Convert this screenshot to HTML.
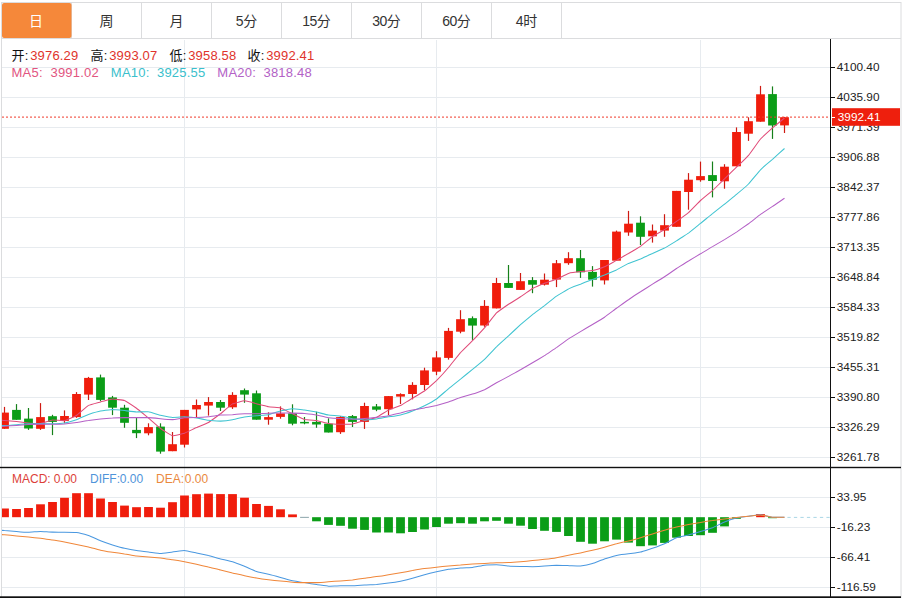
<!DOCTYPE html>
<html><head><meta charset="utf-8"><title>K-line</title><style>html,body{margin:0;padding:0;background:#fff;width:914px;height:598px;overflow:hidden;font-family:"Liberation Sans",sans-serif}</style></head><body><svg width="914" height="598" viewBox="0 0 914 598" style="display:block;position:absolute;left:0;top:0" font-family="Liberation Sans, Noto Sans CJK SC, sans-serif">
<rect width="914" height="598" fill="#fff"/>
<g stroke="#e7ebef" stroke-width="1" shape-rendering="crispEdges">
<line x1="2" y1="67.5" x2="830" y2="67.5"/>
<line x1="2" y1="97.5" x2="830" y2="97.5"/>
<line x1="2" y1="127.5" x2="830" y2="127.5"/>
<line x1="2" y1="157.5" x2="830" y2="157.5"/>
<line x1="2" y1="187.5" x2="830" y2="187.5"/>
<line x1="2" y1="217.5" x2="830" y2="217.5"/>
<line x1="2" y1="247.5" x2="830" y2="247.5"/>
<line x1="2" y1="277.5" x2="830" y2="277.5"/>
<line x1="2" y1="307.5" x2="830" y2="307.5"/>
<line x1="2" y1="337.5" x2="830" y2="337.5"/>
<line x1="2" y1="367.5" x2="830" y2="367.5"/>
<line x1="2" y1="397.5" x2="830" y2="397.5"/>
<line x1="2" y1="427.5" x2="830" y2="427.5"/>
<line x1="2" y1="457.5" x2="830" y2="457.5"/>
<line x1="2" y1="497.5" x2="830" y2="497.5"/>
<line x1="2" y1="527.5" x2="830" y2="527.5"/>
<line x1="2" y1="557.5" x2="830" y2="557.5"/>
<line x1="2" y1="587.5" x2="830" y2="587.5"/>
<line x1="184.5" y1="40" x2="184.5" y2="597"/>
<line x1="436.5" y1="40" x2="436.5" y2="597"/>
<line x1="700.5" y1="40" x2="700.5" y2="597"/>
</g>
<g stroke="#dbdcde" stroke-width="1" shape-rendering="crispEdges">
<line x1="1.5" y1="2" x2="1.5" y2="598"/>
<line x1="901" y1="2" x2="901" y2="598" shape-rendering="auto"/>
<line x1="1" y1="2.5" x2="901" y2="2.5"/>
<line x1="1" y1="38.5" x2="901" y2="38.5"/>
<line x1="71.5" y1="2" x2="71.5" y2="39"/>
<line x1="141.5" y1="2" x2="141.5" y2="39"/>
<line x1="211.5" y1="2" x2="211.5" y2="39"/>
<line x1="281.5" y1="2" x2="281.5" y2="39"/>
<line x1="351.5" y1="2" x2="351.5" y2="39"/>
<line x1="421.5" y1="2" x2="421.5" y2="39"/>
<line x1="491.5" y1="2" x2="491.5" y2="39"/>
<line x1="561.5" y1="2" x2="561.5" y2="39"/>
</g>
<rect x="2" y="3" width="69.5" height="35" rx="2" fill="#f5883a"/>
<text x="29.00" y="26.30" font-size="14" fill="#fff">日</text>
<text x="99.50" y="26.30" font-size="14" fill="#333">周</text>
<text x="169.50" y="26.30" font-size="14" fill="#333">月</text>
<text x="235.82" y="26.30" font-size="14" fill="#333">5</text><text x="243.17" y="26.30" font-size="14" fill="#333">分</text>
<text x="302.15" y="26.30" font-size="14" fill="#333">1</text><text x="309.50" y="26.30" font-size="14" fill="#333">5</text><text x="316.85" y="26.30" font-size="14" fill="#333">分</text>
<text x="372.15" y="26.30" font-size="14" fill="#333">3</text><text x="379.50" y="26.30" font-size="14" fill="#333">0</text><text x="386.85" y="26.30" font-size="14" fill="#333">分</text>
<text x="442.15" y="26.30" font-size="14" fill="#333">6</text><text x="449.50" y="26.30" font-size="14" fill="#333">0</text><text x="456.85" y="26.30" font-size="14" fill="#333">分</text>
<text x="515.83" y="26.30" font-size="14" fill="#333">4</text><text x="523.18" y="26.30" font-size="14" fill="#333">时</text>
<text x="11.40" y="59.60" font-size="13" fill="#111">开</text>
<text x="24.8" y="59.6" font-size="13" fill="#111">:</text>
<text x="30.2" y="59.6" font-size="13" letter-spacing="0.18" fill="#e0332b">3976.29</text>
<text x="90.40" y="59.60" font-size="13" fill="#111">高</text>
<text x="103.8" y="59.6" font-size="13" fill="#111">:</text>
<text x="109.2" y="59.6" font-size="13" letter-spacing="0.18" fill="#e0332b">3993.07</text>
<text x="169.40" y="59.60" font-size="13" fill="#111">低</text>
<text x="182.8" y="59.6" font-size="13" fill="#111">:</text>
<text x="188.2" y="59.6" font-size="13" letter-spacing="0.18" fill="#e0332b">3958.58</text>
<text x="247.40" y="59.60" font-size="13" fill="#111">收</text>
<text x="260.8" y="59.6" font-size="13" fill="#111">:</text>
<text x="266.2" y="59.6" font-size="13" letter-spacing="0.18" fill="#e0332b">3992.41</text>
<text x="11.5" y="77.3" font-size="13" letter-spacing="0.25" fill="#e2557f">MA5:</text>
<text x="50.5" y="77.3" font-size="13" letter-spacing="0.2" fill="#e2557f">3991.02</text>
<text x="110.8" y="77.3" font-size="13" letter-spacing="0.25" fill="#3bbfcc">MA10:</text>
<text x="157.0" y="77.3" font-size="13" letter-spacing="0.2" fill="#3bbfcc">3925.55</text>
<text x="217.3" y="77.3" font-size="13" letter-spacing="0.25" fill="#b362c6">MA20:</text>
<text x="263.5" y="77.3" font-size="13" letter-spacing="0.2" fill="#b362c6">3818.48</text>
<text x="12.0" y="482.7" font-size="12" fill="#dc3f39">MACD:</text>
<text x="53.7" y="482.7" font-size="12" fill="#dc3f39">0.00</text>
<text x="90.0" y="482.7" font-size="12" fill="#4f94da">DIFF:</text>
<text x="119.8" y="482.7" font-size="12" fill="#4f94da">0.00</text>
<text x="156.0" y="482.7" font-size="12" fill="#ea893e">DEA:</text>
<text x="184.8" y="482.7" font-size="12" fill="#ea893e">0.00</text>
<clipPath id="cp"><rect x="2" y="40" width="828" height="558"/></clipPath>
<g clip-path="url(#cp)">
<rect x="0.1" y="508.5" width="8.8" height="8.7" fill="#f01d0c"/>
<rect x="12.1" y="509.0" width="8.8" height="8.2" fill="#f01d0c"/>
<rect x="24.1" y="508.0" width="8.8" height="9.2" fill="#f01d0c"/>
<rect x="36.1" y="504.3" width="8.8" height="12.9" fill="#f01d0c"/>
<rect x="48.1" y="502.0" width="8.8" height="15.2" fill="#f01d0c"/>
<rect x="60.1" y="497.8" width="8.8" height="19.4" fill="#f01d0c"/>
<rect x="72.1" y="493.2" width="8.8" height="24.0" fill="#f01d0c"/>
<rect x="84.1" y="493.2" width="8.8" height="24.0" fill="#f01d0c"/>
<rect x="96.1" y="498.5" width="8.8" height="18.7" fill="#f01d0c"/>
<rect x="108.1" y="502.0" width="8.8" height="15.2" fill="#f01d0c"/>
<rect x="120.1" y="505.6" width="8.8" height="11.6" fill="#f01d0c"/>
<rect x="132.1" y="507.2" width="8.8" height="10.0" fill="#f01d0c"/>
<rect x="144.1" y="507.0" width="8.8" height="10.2" fill="#f01d0c"/>
<rect x="156.1" y="507.7" width="8.8" height="9.5" fill="#f01d0c"/>
<rect x="168.1" y="502.2" width="8.8" height="15.0" fill="#f01d0c"/>
<rect x="180.1" y="495.5" width="8.8" height="21.7" fill="#f01d0c"/>
<rect x="192.1" y="494.2" width="8.8" height="23.0" fill="#f01d0c"/>
<rect x="204.1" y="493.6" width="8.8" height="23.6" fill="#f01d0c"/>
<rect x="216.1" y="494.1" width="8.8" height="23.1" fill="#f01d0c"/>
<rect x="228.1" y="494.1" width="8.8" height="23.1" fill="#f01d0c"/>
<rect x="240.1" y="497.7" width="8.8" height="19.5" fill="#f01d0c"/>
<rect x="252.1" y="504.0" width="8.8" height="13.2" fill="#f01d0c"/>
<rect x="264.1" y="505.9" width="8.8" height="11.3" fill="#f01d0c"/>
<rect x="276.1" y="509.3" width="8.8" height="7.9" fill="#f01d0c"/>
<rect x="288.1" y="514.4" width="8.8" height="2.8" fill="#f01d0c"/>
<rect x="300.1" y="516.9" width="8.8" height="0.7" fill="#5a7f86"/>
<rect x="312.1" y="517.2" width="8.8" height="4.1" fill="#0b9d17"/>
<rect x="324.1" y="517.2" width="8.8" height="7.7" fill="#0b9d17"/>
<rect x="336.1" y="517.2" width="8.8" height="8.6" fill="#0b9d17"/>
<rect x="348.1" y="517.2" width="8.8" height="11.5" fill="#0b9d17"/>
<rect x="360.1" y="517.2" width="8.8" height="12.7" fill="#0b9d17"/>
<rect x="372.1" y="517.2" width="8.8" height="15.3" fill="#0b9d17"/>
<rect x="384.1" y="517.2" width="8.8" height="15.3" fill="#0b9d17"/>
<rect x="396.1" y="517.2" width="8.8" height="16.1" fill="#0b9d17"/>
<rect x="408.1" y="517.2" width="8.8" height="14.8" fill="#0b9d17"/>
<rect x="420.1" y="517.2" width="8.8" height="12.3" fill="#0b9d17"/>
<rect x="432.1" y="517.2" width="8.8" height="9.8" fill="#0b9d17"/>
<rect x="444.1" y="517.2" width="8.8" height="6.5" fill="#0b9d17"/>
<rect x="456.1" y="517.2" width="8.8" height="6.0" fill="#0b9d17"/>
<rect x="468.1" y="517.2" width="8.8" height="6.5" fill="#0b9d17"/>
<rect x="480.1" y="517.2" width="8.8" height="4.1" fill="#0b9d17"/>
<rect x="492.1" y="517.2" width="8.8" height="3.6" fill="#0b9d17"/>
<rect x="504.1" y="517.2" width="8.8" height="6.5" fill="#0b9d17"/>
<rect x="516.1" y="517.2" width="8.8" height="8.5" fill="#0b9d17"/>
<rect x="528.1" y="517.2" width="8.8" height="11.8" fill="#0b9d17"/>
<rect x="540.1" y="517.2" width="8.8" height="13.6" fill="#0b9d17"/>
<rect x="552.1" y="517.2" width="8.8" height="14.7" fill="#0b9d17"/>
<rect x="564.1" y="517.2" width="8.8" height="18.8" fill="#0b9d17"/>
<rect x="576.1" y="517.2" width="8.8" height="24.6" fill="#0b9d17"/>
<rect x="588.1" y="517.2" width="8.8" height="26.5" fill="#0b9d17"/>
<rect x="600.1" y="517.2" width="8.8" height="24.1" fill="#0b9d17"/>
<rect x="612.1" y="517.2" width="8.8" height="22.4" fill="#0b9d17"/>
<rect x="624.1" y="517.2" width="8.8" height="25.4" fill="#0b9d17"/>
<rect x="636.1" y="517.2" width="8.8" height="29.0" fill="#0b9d17"/>
<rect x="648.1" y="517.2" width="8.8" height="28.2" fill="#0b9d17"/>
<rect x="660.1" y="517.2" width="8.8" height="25.7" fill="#0b9d17"/>
<rect x="672.1" y="517.2" width="8.8" height="20.5" fill="#0b9d17"/>
<rect x="684.1" y="517.2" width="8.8" height="18.8" fill="#0b9d17"/>
<rect x="696.1" y="517.2" width="8.8" height="18.0" fill="#0b9d17"/>
<rect x="708.1" y="517.2" width="8.8" height="15.6" fill="#0b9d17"/>
<rect x="720.1" y="517.2" width="8.8" height="9.2" fill="#0b9d17"/>
<rect x="732.1" y="517.2" width="8.8" height="1.6" fill="#0b9d17"/>
<rect x="756.1" y="514.1" width="8.8" height="3.1" fill="#f01d0c"/>
<rect x="768.1" y="517.2" width="8.8" height="1.0" fill="#0b9d17"/>
<line x1="4.5" y1="406.9" x2="4.5" y2="428.8" stroke="#cf1a12" stroke-width="1.2"/>
<rect x="0.1" y="412.6" width="8.8" height="16.2" fill="#f01d0c"/>
<line x1="16.5" y1="404.1" x2="16.5" y2="419.8" stroke="#16801a" stroke-width="1.2"/>
<rect x="12.1" y="409.9" width="8.8" height="9.9" fill="#0b9d17"/>
<line x1="28.5" y1="408.0" x2="28.5" y2="429.9" stroke="#16801a" stroke-width="1.2"/>
<rect x="24.1" y="418.6" width="8.8" height="9.9" fill="#0b9d17"/>
<line x1="40.5" y1="403.1" x2="40.5" y2="429.9" stroke="#cf1a12" stroke-width="1.2"/>
<rect x="36.1" y="417.1" width="8.8" height="11.7" fill="#f01d0c"/>
<line x1="52.5" y1="414.8" x2="52.5" y2="435.1" stroke="#16801a" stroke-width="1.2"/>
<rect x="48.1" y="416.2" width="8.8" height="5.7" fill="#0b9d17"/>
<line x1="64.5" y1="410.4" x2="64.5" y2="423.3" stroke="#cf1a12" stroke-width="1.2"/>
<rect x="60.1" y="416.0" width="8.8" height="4.9" fill="#f01d0c"/>
<line x1="76.5" y1="392.1" x2="76.5" y2="417.8" stroke="#cf1a12" stroke-width="1.2"/>
<rect x="72.1" y="394.0" width="8.8" height="23.1" fill="#f01d0c"/>
<line x1="88.5" y1="376.9" x2="88.5" y2="400.0" stroke="#cf1a12" stroke-width="1.2"/>
<rect x="84.1" y="377.9" width="8.8" height="16.7" fill="#f01d0c"/>
<line x1="100.5" y1="374.6" x2="100.5" y2="401.2" stroke="#16801a" stroke-width="1.2"/>
<rect x="96.1" y="377.4" width="8.8" height="22.5" fill="#0b9d17"/>
<line x1="112.5" y1="395.9" x2="112.5" y2="415.1" stroke="#16801a" stroke-width="1.2"/>
<rect x="108.1" y="397.4" width="8.8" height="10.3" fill="#0b9d17"/>
<line x1="124.5" y1="404.8" x2="124.5" y2="427.8" stroke="#16801a" stroke-width="1.2"/>
<rect x="120.1" y="407.7" width="8.8" height="15.1" fill="#0b9d17"/>
<line x1="136.5" y1="417.6" x2="136.5" y2="438.1" stroke="#16801a" stroke-width="1.2"/>
<rect x="132.1" y="429.9" width="8.8" height="3.3" fill="#0b9d17"/>
<line x1="148.5" y1="423.3" x2="148.5" y2="435.3" stroke="#cf1a12" stroke-width="1.2"/>
<rect x="144.1" y="427.1" width="8.8" height="6.2" fill="#f01d0c"/>
<line x1="160.5" y1="423.3" x2="160.5" y2="453.7" stroke="#16801a" stroke-width="1.2"/>
<rect x="156.1" y="426.6" width="8.8" height="25.0" fill="#0b9d17"/>
<line x1="172.5" y1="432.0" x2="172.5" y2="451.2" stroke="#cf1a12" stroke-width="1.2"/>
<rect x="168.1" y="444.2" width="8.8" height="7.0" fill="#f01d0c"/>
<line x1="184.5" y1="409.9" x2="184.5" y2="447.5" stroke="#cf1a12" stroke-width="1.2"/>
<rect x="180.1" y="409.9" width="8.8" height="34.8" fill="#f01d0c"/>
<line x1="196.5" y1="399.5" x2="196.5" y2="417.6" stroke="#cf1a12" stroke-width="1.2"/>
<rect x="192.1" y="405.0" width="8.8" height="4.4" fill="#f01d0c"/>
<line x1="208.5" y1="397.1" x2="208.5" y2="415.6" stroke="#cf1a12" stroke-width="1.2"/>
<rect x="204.1" y="402.0" width="8.8" height="3.6" fill="#f01d0c"/>
<line x1="220.5" y1="400.0" x2="220.5" y2="411.0" stroke="#16801a" stroke-width="1.2"/>
<rect x="216.1" y="402.0" width="8.8" height="5.7" fill="#0b9d17"/>
<line x1="232.5" y1="392.2" x2="232.5" y2="408.9" stroke="#cf1a12" stroke-width="1.2"/>
<rect x="228.1" y="394.9" width="8.8" height="12.4" fill="#f01d0c"/>
<line x1="244.5" y1="388.5" x2="244.5" y2="402.8" stroke="#16801a" stroke-width="1.2"/>
<rect x="240.1" y="390.2" width="8.8" height="4.4" fill="#0b9d17"/>
<line x1="256.5" y1="390.5" x2="256.5" y2="419.7" stroke="#16801a" stroke-width="1.2"/>
<rect x="252.1" y="393.3" width="8.8" height="26.4" fill="#0b9d17"/>
<line x1="268.5" y1="412.3" x2="268.5" y2="424.7" stroke="#cf1a12" stroke-width="1.2"/>
<rect x="264.1" y="417.1" width="8.8" height="2.6" fill="#f01d0c"/>
<line x1="280.5" y1="406.4" x2="280.5" y2="418.7" stroke="#cf1a12" stroke-width="1.2"/>
<rect x="276.1" y="413.4" width="8.8" height="3.5" fill="#f01d0c"/>
<line x1="292.5" y1="404.3" x2="292.5" y2="425.3" stroke="#16801a" stroke-width="1.2"/>
<rect x="288.1" y="413.3" width="8.8" height="10.4" fill="#0b9d17"/>
<line x1="304.5" y1="417.0" x2="304.5" y2="424.3" stroke="#16801a" stroke-width="1.2"/>
<rect x="300.1" y="421.9" width="8.8" height="1.5" fill="#0b9d17"/>
<line x1="316.5" y1="411.7" x2="316.5" y2="427.8" stroke="#16801a" stroke-width="1.2"/>
<rect x="312.1" y="421.9" width="8.8" height="2.6" fill="#0b9d17"/>
<line x1="328.5" y1="418.3" x2="328.5" y2="432.5" stroke="#16801a" stroke-width="1.2"/>
<rect x="324.1" y="423.7" width="8.8" height="8.8" fill="#0b9d17"/>
<line x1="340.5" y1="416.1" x2="340.5" y2="433.9" stroke="#cf1a12" stroke-width="1.2"/>
<rect x="336.1" y="417.0" width="8.8" height="15.2" fill="#f01d0c"/>
<line x1="352.5" y1="415.0" x2="352.5" y2="427.0" stroke="#16801a" stroke-width="1.2"/>
<rect x="348.1" y="416.1" width="8.8" height="5.8" fill="#0b9d17"/>
<line x1="364.5" y1="402.7" x2="364.5" y2="428.9" stroke="#cf1a12" stroke-width="1.2"/>
<rect x="360.1" y="406.0" width="8.8" height="15.9" fill="#f01d0c"/>
<line x1="376.5" y1="404.0" x2="376.5" y2="411.2" stroke="#16801a" stroke-width="1.2"/>
<rect x="372.1" y="406.4" width="8.8" height="3.3" fill="#0b9d17"/>
<line x1="388.5" y1="396.1" x2="388.5" y2="415.0" stroke="#cf1a12" stroke-width="1.2"/>
<rect x="384.1" y="396.1" width="8.8" height="13.1" fill="#f01d0c"/>
<line x1="400.5" y1="393.3" x2="400.5" y2="404.0" stroke="#cf1a12" stroke-width="1.2"/>
<rect x="396.1" y="394.1" width="8.8" height="2.5" fill="#f01d0c"/>
<line x1="412.5" y1="382.2" x2="412.5" y2="399.4" stroke="#cf1a12" stroke-width="1.2"/>
<rect x="408.1" y="384.9" width="8.8" height="9.1" fill="#f01d0c"/>
<line x1="424.5" y1="367.7" x2="424.5" y2="390.2" stroke="#cf1a12" stroke-width="1.2"/>
<rect x="420.1" y="370.4" width="8.8" height="14.6" fill="#f01d0c"/>
<line x1="436.5" y1="351.2" x2="436.5" y2="375.2" stroke="#cf1a12" stroke-width="1.2"/>
<rect x="432.1" y="357.4" width="8.8" height="14.3" fill="#f01d0c"/>
<line x1="448.5" y1="327.9" x2="448.5" y2="359.6" stroke="#cf1a12" stroke-width="1.2"/>
<rect x="444.1" y="330.9" width="8.8" height="27.0" fill="#f01d0c"/>
<line x1="460.5" y1="310.2" x2="460.5" y2="333.3" stroke="#cf1a12" stroke-width="1.2"/>
<rect x="456.1" y="319.2" width="8.8" height="12.5" fill="#f01d0c"/>
<line x1="472.5" y1="316.4" x2="472.5" y2="339.9" stroke="#16801a" stroke-width="1.2"/>
<rect x="468.1" y="318.2" width="8.8" height="7.4" fill="#0b9d17"/>
<line x1="484.5" y1="300.1" x2="484.5" y2="326.8" stroke="#cf1a12" stroke-width="1.2"/>
<rect x="480.1" y="305.9" width="8.8" height="19.6" fill="#f01d0c"/>
<line x1="496.5" y1="277.9" x2="496.5" y2="308.4" stroke="#cf1a12" stroke-width="1.2"/>
<rect x="492.1" y="283.0" width="8.8" height="25.4" fill="#f01d0c"/>
<line x1="508.5" y1="265.0" x2="508.5" y2="287.9" stroke="#16801a" stroke-width="1.2"/>
<rect x="504.1" y="283.0" width="8.8" height="4.9" fill="#0b9d17"/>
<line x1="520.5" y1="273.0" x2="520.5" y2="289.9" stroke="#cf1a12" stroke-width="1.2"/>
<rect x="516.1" y="281.2" width="8.8" height="8.7" fill="#f01d0c"/>
<line x1="532.5" y1="277.1" x2="532.5" y2="293.2" stroke="#16801a" stroke-width="1.2"/>
<rect x="528.1" y="280.1" width="8.8" height="4.6" fill="#0b9d17"/>
<line x1="544.5" y1="273.5" x2="544.5" y2="285.5" stroke="#cf1a12" stroke-width="1.2"/>
<rect x="540.1" y="279.7" width="8.8" height="5.0" fill="#f01d0c"/>
<line x1="556.5" y1="260.0" x2="556.5" y2="287.1" stroke="#cf1a12" stroke-width="1.2"/>
<rect x="552.1" y="263.2" width="8.8" height="16.4" fill="#f01d0c"/>
<line x1="568.5" y1="252.2" x2="568.5" y2="264.8" stroke="#cf1a12" stroke-width="1.2"/>
<rect x="564.1" y="258.2" width="8.8" height="5.0" fill="#f01d0c"/>
<line x1="580.5" y1="250.0" x2="580.5" y2="277.9" stroke="#16801a" stroke-width="1.2"/>
<rect x="576.1" y="258.2" width="8.8" height="14.1" fill="#0b9d17"/>
<line x1="592.5" y1="266.1" x2="592.5" y2="286.6" stroke="#16801a" stroke-width="1.2"/>
<rect x="588.1" y="271.9" width="8.8" height="7.8" fill="#0b9d17"/>
<line x1="604.5" y1="260.0" x2="604.5" y2="284.5" stroke="#cf1a12" stroke-width="1.2"/>
<rect x="600.1" y="260.0" width="8.8" height="20.4" fill="#f01d0c"/>
<line x1="616.5" y1="230.6" x2="616.5" y2="260.7" stroke="#cf1a12" stroke-width="1.2"/>
<rect x="612.1" y="231.6" width="8.8" height="29.1" fill="#f01d0c"/>
<line x1="628.5" y1="210.9" x2="628.5" y2="235.8" stroke="#cf1a12" stroke-width="1.2"/>
<rect x="624.1" y="223.7" width="8.8" height="8.8" fill="#f01d0c"/>
<line x1="640.5" y1="216.3" x2="640.5" y2="245.0" stroke="#16801a" stroke-width="1.2"/>
<rect x="636.1" y="222.7" width="8.8" height="14.1" fill="#0b9d17"/>
<line x1="652.5" y1="224.5" x2="652.5" y2="242.6" stroke="#cf1a12" stroke-width="1.2"/>
<rect x="648.1" y="230.6" width="8.8" height="5.7" fill="#f01d0c"/>
<line x1="664.5" y1="214.2" x2="664.5" y2="236.8" stroke="#cf1a12" stroke-width="1.2"/>
<rect x="660.1" y="225.2" width="8.8" height="5.4" fill="#f01d0c"/>
<line x1="676.5" y1="190.9" x2="676.5" y2="226.8" stroke="#cf1a12" stroke-width="1.2"/>
<rect x="672.1" y="190.9" width="8.8" height="35.9" fill="#f01d0c"/>
<line x1="688.5" y1="173.1" x2="688.5" y2="209.7" stroke="#cf1a12" stroke-width="1.2"/>
<rect x="684.1" y="179.7" width="8.8" height="12.3" fill="#f01d0c"/>
<line x1="700.5" y1="161.6" x2="700.5" y2="181.7" stroke="#cf1a12" stroke-width="1.2"/>
<rect x="696.1" y="176.1" width="8.8" height="4.1" fill="#f01d0c"/>
<line x1="712.5" y1="161.5" x2="712.5" y2="197.4" stroke="#16801a" stroke-width="1.2"/>
<rect x="708.1" y="175.1" width="8.8" height="5.9" fill="#0b9d17"/>
<line x1="724.5" y1="164.2" x2="724.5" y2="188.7" stroke="#cf1a12" stroke-width="1.2"/>
<rect x="720.1" y="166.7" width="8.8" height="14.6" fill="#f01d0c"/>
<line x1="736.5" y1="127.4" x2="736.5" y2="166.3" stroke="#cf1a12" stroke-width="1.2"/>
<rect x="732.1" y="132.0" width="8.8" height="34.3" fill="#f01d0c"/>
<line x1="748.5" y1="117.3" x2="748.5" y2="140.9" stroke="#cf1a12" stroke-width="1.2"/>
<rect x="744.1" y="121.2" width="8.8" height="12.5" fill="#f01d0c"/>
<line x1="760.5" y1="85.9" x2="760.5" y2="121.7" stroke="#cf1a12" stroke-width="1.2"/>
<rect x="756.1" y="94.3" width="8.8" height="27.4" fill="#f01d0c"/>
<line x1="772.5" y1="86.4" x2="772.5" y2="138.9" stroke="#16801a" stroke-width="1.2"/>
<rect x="768.1" y="94.1" width="8.8" height="31.4" fill="#0b9d17"/>
<line x1="784.5" y1="116.9" x2="784.5" y2="133.0" stroke="#cf1a12" stroke-width="1.2"/>
<rect x="780.1" y="117.2" width="8.8" height="8.2" fill="#f01d0c"/>
<path d="M-7.5 419.4C-7.0 419.5 3.5 420.3 4.5 420.4C5.5 420.5 15.5 421.5 16.5 421.6C17.5 421.7 27.5 422.9 28.5 423.0C29.5 423.1 39.5 423.5 40.5 423.4C41.5 423.3 51.5 420.1 52.5 420.0C53.5 419.9 63.5 420.8 64.5 420.7C65.5 420.5 75.5 416.1 76.5 415.5C77.5 414.9 87.5 405.9 88.5 405.4C89.5 404.8 99.5 402.2 100.5 401.9C101.5 401.7 111.5 399.2 112.5 399.1C113.5 399.0 123.5 400.1 124.5 400.5C125.5 400.8 135.5 407.6 136.5 408.3C137.5 409.0 147.5 417.3 148.5 418.1C149.5 418.9 159.5 427.8 160.5 428.5C161.5 429.2 171.5 435.6 172.5 435.8C173.5 436.0 183.5 433.5 184.5 433.2C185.5 432.9 195.5 428.0 196.5 427.6C197.5 427.1 207.5 423.1 208.5 422.5C209.5 422.0 219.5 414.5 220.5 413.8C221.5 413.0 231.5 404.4 232.5 403.9C233.5 403.4 243.5 400.8 244.5 400.8C245.5 400.8 255.5 403.5 256.5 403.8C257.5 404.0 267.5 406.6 268.5 406.8C269.5 407.0 279.5 407.7 280.5 407.9C281.5 408.2 291.5 413.2 292.5 413.7C293.5 414.2 303.5 419.2 304.5 419.5C305.5 419.7 315.5 420.3 316.5 420.4C317.5 420.6 327.5 423.3 328.5 423.5C329.5 423.7 339.5 424.2 340.5 424.2C341.5 424.2 351.5 424.0 352.5 423.9C353.5 423.7 363.5 420.6 364.5 420.4C365.5 420.1 375.5 417.8 376.5 417.4C377.5 417.0 387.5 410.6 388.5 410.1C389.5 409.7 399.5 406.0 400.5 405.6C401.5 405.1 411.5 398.7 412.5 398.2C413.5 397.6 423.5 391.7 424.5 391.0C425.5 390.3 435.5 381.5 436.5 380.6C437.5 379.6 447.5 368.7 448.5 367.5C449.5 366.4 459.5 353.6 460.5 352.6C461.5 351.5 471.5 341.7 472.5 340.7C473.5 339.7 483.5 328.9 484.5 327.8C485.5 326.7 495.5 313.9 496.5 312.9C497.5 312.0 507.5 305.0 508.5 304.3C509.5 303.7 519.5 297.4 520.5 296.7C521.5 296.1 531.5 289.1 532.5 288.5C533.5 288.0 543.5 283.7 544.5 283.3C545.5 282.9 555.5 279.7 556.5 279.3C557.5 278.9 567.5 273.7 568.5 273.4C569.5 273.1 579.5 271.7 580.5 271.6C581.5 271.5 591.5 270.8 592.5 270.6C593.5 270.4 603.5 267.1 604.5 266.7C605.5 266.3 615.5 260.9 616.5 260.4C617.5 259.8 627.5 254.0 628.5 253.5C629.5 252.9 639.5 247.0 640.5 246.4C641.5 245.7 651.5 237.2 652.5 236.5C653.5 235.9 663.5 230.2 664.5 229.6C665.5 229.0 675.5 222.1 676.5 221.4C677.5 220.8 687.5 213.5 688.5 212.6C689.5 211.8 699.5 201.4 700.5 200.5C701.5 199.6 711.5 191.4 712.5 190.6C713.5 189.7 723.5 179.8 724.5 178.9C725.5 177.9 735.5 168.0 736.5 167.1C737.5 166.2 747.5 156.5 748.5 155.4C749.5 154.3 759.5 140.1 760.5 139.0C761.5 137.9 771.5 128.8 772.5 127.9C773.5 127.1 784.0 118.4 784.5 118.0" fill="none" stroke="#e04a78" stroke-width="1.05" stroke-linejoin="round"/>
<path d="M-7.5 426.1C-7.0 426.0 3.5 425.6 4.5 425.5C5.5 425.4 15.5 424.9 16.5 424.8C17.5 424.7 27.5 423.8 28.5 423.8C29.5 423.8 39.5 423.6 40.5 423.6C41.5 423.6 51.5 423.7 52.5 423.7C53.5 423.7 63.5 423.2 64.5 423.0C65.5 422.8 75.5 420.0 76.5 419.7C77.5 419.4 87.5 414.7 88.5 414.4C89.5 414.1 99.5 411.3 100.5 411.1C101.5 410.9 111.5 409.6 112.5 409.5C113.5 409.5 123.5 410.5 124.5 410.6C125.5 410.7 135.5 411.9 136.5 411.9C137.5 411.9 147.5 411.6 148.5 411.8C149.5 411.9 159.5 415.0 160.5 415.2C161.5 415.4 171.5 417.4 172.5 417.4C173.5 417.5 183.5 416.8 184.5 416.8C185.5 416.8 195.5 417.8 196.5 417.9C197.5 418.1 207.5 420.2 208.5 420.3C209.5 420.5 219.5 421.1 220.5 421.1C221.5 421.1 231.5 420.0 232.5 419.8C233.5 419.7 243.5 417.2 244.5 417.0C245.5 416.9 255.5 415.8 256.5 415.7C257.5 415.6 267.5 414.9 268.5 414.7C269.5 414.5 279.5 411.1 280.5 410.9C281.5 410.6 291.5 408.8 292.5 408.8C293.5 408.8 303.5 410.0 304.5 410.1C305.5 410.3 315.5 411.9 316.5 412.1C317.5 412.3 327.5 415.0 328.5 415.1C329.5 415.3 339.5 415.9 340.5 416.1C341.5 416.2 351.5 418.6 352.5 418.8C353.5 418.9 363.5 419.9 364.5 419.9C365.5 419.9 375.5 419.0 376.5 418.9C377.5 418.8 387.5 417.0 388.5 416.8C389.5 416.7 399.5 415.1 400.5 414.9C401.5 414.7 411.5 411.4 412.5 411.0C413.5 410.6 423.5 406.2 424.5 405.7C425.5 405.2 435.5 399.7 436.5 399.0C437.5 398.3 447.5 389.6 448.5 388.8C449.5 388.0 459.5 379.8 460.5 379.1C461.5 378.3 471.5 370.2 472.5 369.4C473.5 368.6 483.5 360.3 484.5 359.4C485.5 358.5 495.5 347.7 496.5 346.8C497.5 345.8 507.5 336.8 508.5 335.9C509.5 335.0 519.5 325.5 520.5 324.6C521.5 323.8 531.5 315.4 532.5 314.6C533.5 313.9 543.5 306.3 544.5 305.6C545.5 304.8 555.5 296.8 556.5 296.1C557.5 295.5 567.5 289.3 568.5 288.9C569.5 288.4 579.5 284.5 580.5 284.2C581.5 283.8 591.5 279.9 592.5 279.6C593.5 279.2 603.5 275.4 604.5 275.0C605.5 274.6 615.5 270.3 616.5 269.9C617.5 269.4 627.5 263.9 628.5 263.4C629.5 263.0 639.5 259.4 640.5 259.0C641.5 258.6 651.5 254.0 652.5 253.6C653.5 253.1 663.5 248.6 664.5 248.1C665.5 247.6 675.5 241.5 676.5 240.9C677.5 240.3 687.5 233.7 688.5 233.1C689.5 232.4 699.5 224.2 700.5 223.4C701.5 222.7 711.5 214.3 712.5 213.6C713.5 212.8 723.5 205.0 724.5 204.2C725.5 203.5 735.5 195.1 736.5 194.3C737.5 193.5 747.5 185.0 748.5 184.0C749.5 183.0 759.5 170.8 760.5 169.8C761.5 168.8 771.5 160.1 772.5 159.3C773.5 158.4 784.0 148.9 784.5 148.5" fill="none" stroke="#40c4d1" stroke-width="1.05" stroke-linejoin="round"/>
<path d="M-7.5 426.8C-7.0 426.8 3.5 426.3 4.5 426.2C5.5 426.1 15.5 425.5 16.5 425.4C17.5 425.3 27.5 424.5 28.5 424.4C29.5 424.3 39.5 424.1 40.5 424.1C41.5 424.1 51.5 424.2 52.5 424.2C53.5 424.2 63.5 424.1 64.5 424.0C65.5 423.9 75.5 422.6 76.5 422.5C77.5 422.4 87.5 420.5 88.5 420.4C89.5 420.3 99.5 419.0 100.5 418.9C101.5 418.8 111.5 418.2 112.5 418.1C113.5 418.0 123.5 417.6 124.5 417.6C125.5 417.6 135.5 417.6 136.5 417.6C137.5 417.6 147.5 417.6 148.5 417.6C149.5 417.6 159.5 418.6 160.5 418.7C161.5 418.8 171.5 419.6 172.5 419.6C173.5 419.6 183.5 417.9 184.5 417.8C185.5 417.7 195.5 417.4 196.5 417.4C197.5 417.4 207.5 416.9 208.5 416.8C209.5 416.7 219.5 415.2 220.5 415.1C221.5 415.0 231.5 414.7 232.5 414.7C233.5 414.6 243.5 413.8 244.5 413.8C245.5 413.8 255.5 413.8 256.5 413.8C257.5 413.8 267.5 413.2 268.5 413.2C269.5 413.2 279.5 413.0 280.5 413.0C281.5 413.0 291.5 413.1 292.5 413.1C293.5 413.1 303.5 413.4 304.5 413.5C305.5 413.6 315.5 414.8 316.5 415.0C317.5 415.2 327.5 417.6 328.5 417.7C329.5 417.9 339.5 418.5 340.5 418.6C341.5 418.7 351.5 419.3 352.5 419.3C353.5 419.3 363.5 418.6 364.5 418.5C365.5 418.4 375.5 417.4 376.5 417.3C377.5 417.2 387.5 415.9 388.5 415.7C389.5 415.6 399.5 413.1 400.5 412.9C401.5 412.6 411.5 410.1 412.5 409.9C413.5 409.7 423.5 408.1 424.5 407.9C425.5 407.8 435.5 405.8 436.5 405.6C437.5 405.3 447.5 402.3 448.5 402.0C449.5 401.7 459.5 397.9 460.5 397.6C461.5 397.3 471.5 394.4 472.5 394.1C473.5 393.8 483.5 390.1 484.5 389.7C485.5 389.2 495.5 383.4 496.5 382.8C497.5 382.3 507.5 376.9 508.5 376.4C509.5 375.9 519.5 370.3 520.5 369.8C521.5 369.2 531.5 363.4 532.5 362.8C533.5 362.2 543.5 356.2 544.5 355.6C545.5 355.0 555.5 348.2 556.5 347.6C557.5 346.9 567.5 339.5 568.5 338.9C569.5 338.2 579.5 332.2 580.5 331.6C581.5 331.0 591.5 325.1 592.5 324.5C593.5 323.9 603.5 317.9 604.5 317.2C605.5 316.6 615.5 309.0 616.5 308.3C617.5 307.6 627.5 300.3 628.5 299.7C629.5 299.0 639.5 292.4 640.5 291.8C641.5 291.2 651.5 284.7 652.5 284.1C653.5 283.5 663.5 277.5 664.5 276.8C665.5 276.2 675.5 269.2 676.5 268.5C677.5 267.9 687.5 261.5 688.5 261.0C689.5 260.4 699.5 254.4 700.5 253.8C701.5 253.2 711.5 247.1 712.5 246.6C713.5 246.0 723.5 240.2 724.5 239.6C725.5 239.0 735.5 232.7 736.5 232.1C737.5 231.4 747.5 224.4 748.5 223.7C749.5 223.0 759.5 215.1 760.5 214.4C761.5 213.7 771.5 207.1 772.5 206.4C773.5 205.8 784.0 198.6 784.5 198.3" fill="none" stroke="#b460c6" stroke-width="1.05" stroke-linejoin="round"/>
<path d="M-7.5 530.0C-7.0 530.0 3.5 530.5 4.5 530.6C5.5 530.7 15.5 531.3 16.5 531.4C17.5 531.5 27.5 532.3 28.5 532.3C29.5 532.3 39.5 531.4 40.5 531.4C41.5 531.4 51.5 532.1 52.5 532.1C53.5 532.1 63.5 532.3 64.5 532.3C65.5 532.3 75.5 532.5 76.5 532.6C77.5 532.7 87.5 535.2 88.5 535.5C89.5 535.8 99.5 540.4 100.5 540.8C101.5 541.2 111.5 544.6 112.5 544.9C113.5 545.2 123.5 548.0 124.5 548.2C125.5 548.4 135.5 550.4 136.5 550.6C137.5 550.8 147.5 551.9 148.5 552.0C149.5 552.1 159.5 553.5 160.5 553.5C161.5 553.5 171.5 552.1 172.5 552.0C173.5 551.9 183.5 550.4 184.5 550.4C185.5 550.4 195.5 552.7 196.5 552.9C197.5 553.1 207.5 555.4 208.5 555.6C209.5 555.8 219.5 558.7 220.5 558.9C221.5 559.1 231.5 561.4 232.5 561.7C233.5 562.0 243.5 565.9 244.5 566.3C245.5 566.7 255.5 571.3 256.5 571.6C257.5 571.9 267.5 574.0 268.5 574.2C269.5 574.4 279.5 577.2 280.5 577.5C281.5 577.8 291.5 580.5 292.5 580.7C293.5 580.9 303.5 582.4 304.5 582.6C305.5 582.8 315.5 584.4 316.5 584.5C317.5 584.6 327.5 586.2 328.5 586.2C329.5 586.2 339.5 585.7 340.5 585.7C341.5 585.7 351.5 585.8 352.5 585.8C353.5 585.8 363.5 585.1 364.5 585.0C365.5 584.9 375.5 584.6 376.5 584.5C377.5 584.4 387.5 583.0 388.5 582.9C389.5 582.8 399.5 581.4 400.5 581.2C401.5 581.0 411.5 578.6 412.5 578.3C413.5 578.0 423.5 575.0 424.5 574.7C425.5 574.4 435.5 572.0 436.5 571.8C437.5 571.6 447.5 569.4 448.5 569.2C449.5 569.0 459.5 568.1 460.5 568.0C461.5 567.9 471.5 567.6 472.5 567.5C473.5 567.4 483.5 565.3 484.5 565.2C485.5 565.1 495.5 564.8 496.5 564.8C497.5 564.8 507.5 566.0 508.5 566.1C509.5 566.2 519.5 566.4 520.5 566.4C521.5 566.4 531.5 566.7 532.5 566.7C533.5 566.7 543.5 566.2 544.5 566.1C545.5 566.0 555.5 565.2 556.5 565.2C557.5 565.2 567.5 565.6 568.5 565.6C569.5 565.6 579.5 566.0 580.5 565.9C581.5 565.8 591.5 563.9 592.5 563.6C593.5 563.3 603.5 559.3 604.5 559.0C605.5 558.7 615.5 555.6 616.5 555.4C617.5 555.2 627.5 553.9 628.5 553.8C629.5 553.7 639.5 552.3 640.5 552.1C641.5 551.9 651.5 548.6 652.5 548.3C653.5 548.0 663.5 544.1 664.5 543.7C665.5 543.3 675.5 538.1 676.5 537.7C677.5 537.3 687.5 535.1 688.5 534.9C689.5 534.7 699.5 531.9 700.5 531.6C701.5 531.3 711.5 528.2 712.5 527.8C713.5 527.4 723.5 522.3 724.5 521.9C725.5 521.5 735.5 518.3 736.5 518.1C737.5 517.9 747.5 516.4 748.5 516.3C749.5 516.2 759.5 514.7 760.5 514.7C761.5 514.7 771.5 517.2 772.5 517.3C773.5 517.4 784.0 517.3 784.5 517.3" fill="none" stroke="#4a98e0" stroke-width="1.05" stroke-linejoin="round"/>
<path d="M-7.5 533.9C-7.0 534.0 3.5 534.7 4.5 534.8C5.5 534.9 15.5 535.8 16.5 535.9C17.5 536.0 27.5 536.9 28.5 537.0C29.5 537.1 39.5 538.2 40.5 538.3C41.5 538.4 51.5 539.9 52.5 540.0C53.5 540.1 63.5 541.8 64.5 542.0C65.5 542.2 75.5 544.4 76.5 544.6C77.5 544.8 87.5 546.8 88.5 547.0C89.5 547.2 99.5 550.0 100.5 550.2C101.5 550.4 111.5 552.2 112.5 552.3C113.5 552.4 123.5 553.8 124.5 553.9C125.5 554.0 135.5 555.8 136.5 555.9C137.5 556.0 147.5 557.0 148.5 557.1C149.5 557.2 159.5 558.0 160.5 558.1C161.5 558.2 171.5 559.7 172.5 559.8C173.5 559.9 183.5 561.5 184.5 561.7C185.5 561.9 195.5 564.1 196.5 564.3C197.5 564.5 207.5 566.9 208.5 567.1C209.5 567.3 219.5 569.9 220.5 570.1C221.5 570.3 231.5 572.7 232.5 572.9C233.5 573.1 243.5 575.6 244.5 575.8C245.5 576.0 255.5 577.9 256.5 578.1C257.5 578.3 267.5 579.7 268.5 579.8C269.5 579.9 279.5 580.9 280.5 581.0C281.5 581.1 291.5 582.1 292.5 582.2C293.5 582.3 303.5 582.6 304.5 582.6C305.5 582.6 315.5 582.6 316.5 582.6C317.5 582.6 327.5 581.8 328.5 581.7C329.5 581.6 339.5 581.0 340.5 580.9C341.5 580.8 351.5 580.0 352.5 579.9C353.5 579.8 363.5 578.4 364.5 578.3C365.5 578.2 375.5 576.7 376.5 576.6C377.5 576.5 387.5 574.9 388.5 574.7C389.5 574.5 399.5 572.9 400.5 572.7C401.5 572.5 411.5 570.8 412.5 570.6C413.5 570.4 423.5 568.7 424.5 568.6C425.5 568.5 435.5 567.3 436.5 567.2C437.5 567.1 447.5 566.0 448.5 565.9C449.5 565.8 459.5 565.2 460.5 565.1C461.5 565.0 471.5 564.0 472.5 563.9C473.5 563.8 483.5 563.4 484.5 563.4C485.5 563.4 495.5 562.8 496.5 562.8C497.5 562.8 507.5 562.6 508.5 562.6C509.5 562.6 519.5 561.9 520.5 561.8C521.5 561.7 531.5 560.7 532.5 560.6C533.5 560.5 543.5 559.4 544.5 559.3C545.5 559.2 555.5 557.9 556.5 557.7C557.5 557.5 567.5 555.5 568.5 555.3C569.5 555.1 579.5 553.1 580.5 552.9C581.5 552.7 591.5 550.5 592.5 550.3C593.5 550.1 603.5 547.5 604.5 547.2C605.5 546.9 615.5 543.9 616.5 543.7C617.5 543.5 627.5 541.2 628.5 541.0C629.5 540.8 639.5 538.0 640.5 537.7C641.5 537.4 651.5 534.2 652.5 533.9C653.5 533.6 663.5 530.6 664.5 530.3C665.5 530.0 675.5 527.2 676.5 527.0C677.5 526.8 687.5 524.7 688.5 524.5C689.5 524.3 699.5 522.6 700.5 522.4C701.5 522.2 711.5 520.6 712.5 520.5C713.5 520.4 723.5 519.0 724.5 518.9C725.5 518.8 735.5 517.6 736.5 517.5C737.5 517.4 747.5 516.3 748.5 516.2C749.5 516.1 759.5 514.9 760.5 514.9C761.5 514.9 771.5 517.2 772.5 517.3C773.5 517.4 784.0 517.3 784.5 517.3" fill="none" stroke="#f0873a" stroke-width="1.05" stroke-linejoin="round"/>
</g>
<line x1="2" y1="117.1" x2="830" y2="117.1" stroke="#f0392b" stroke-width="1" stroke-dasharray="2 2"/>
<line x1="787.4" y1="517.4" x2="830" y2="517.4" stroke="#a9d6e6" stroke-width="1" stroke-dasharray="3.3 3.2"/>
<g stroke="#111" stroke-width="1" shape-rendering="crispEdges">
<line x1="830.5" y1="39" x2="830.5" y2="598"/>
<line x1="831" y1="67.5" x2="835" y2="67.5"/>
<line x1="831" y1="97.5" x2="835" y2="97.5"/>
<line x1="831" y1="127.5" x2="835" y2="127.5"/>
<line x1="831" y1="157.5" x2="835" y2="157.5"/>
<line x1="831" y1="187.5" x2="835" y2="187.5"/>
<line x1="831" y1="217.5" x2="835" y2="217.5"/>
<line x1="831" y1="247.5" x2="835" y2="247.5"/>
<line x1="831" y1="277.5" x2="835" y2="277.5"/>
<line x1="831" y1="307.5" x2="835" y2="307.5"/>
<line x1="831" y1="337.5" x2="835" y2="337.5"/>
<line x1="831" y1="367.5" x2="835" y2="367.5"/>
<line x1="831" y1="397.5" x2="835" y2="397.5"/>
<line x1="831" y1="427.5" x2="835" y2="427.5"/>
<line x1="831" y1="457.5" x2="835" y2="457.5"/>
<line x1="831" y1="497.5" x2="835" y2="497.5"/>
<line x1="831" y1="527.5" x2="835" y2="527.5"/>
<line x1="831" y1="557.5" x2="835" y2="557.5"/>
<line x1="831" y1="587.5" x2="835" y2="587.5"/>
</g>
<rect x="0" y="466.8" width="901" height="1.4" fill="#111"/>
<rect x="0" y="596.3" width="901" height="1.7" fill="#111"/>
<text x="836.8" y="71.3" font-size="11.8" fill="#222">4100.40</text>
<text x="836.8" y="101.3" font-size="11.8" fill="#222">4035.90</text>
<text x="836.8" y="131.3" font-size="11.8" fill="#222">3971.39</text>
<text x="836.8" y="161.3" font-size="11.8" fill="#222">3906.88</text>
<text x="836.8" y="191.3" font-size="11.8" fill="#222">3842.37</text>
<text x="836.8" y="221.3" font-size="11.8" fill="#222">3777.86</text>
<text x="836.8" y="251.3" font-size="11.8" fill="#222">3713.35</text>
<text x="836.8" y="281.3" font-size="11.8" fill="#222">3648.84</text>
<text x="836.8" y="311.3" font-size="11.8" fill="#222">3584.33</text>
<text x="836.8" y="341.3" font-size="11.8" fill="#222">3519.82</text>
<text x="836.8" y="371.3" font-size="11.8" fill="#222">3455.31</text>
<text x="836.8" y="401.3" font-size="11.8" fill="#222">3390.80</text>
<text x="836.8" y="431.3" font-size="11.8" fill="#222">3326.29</text>
<text x="836.8" y="461.3" font-size="11.8" fill="#222">3261.78</text>
<text x="836.8" y="501.3" font-size="11.8" fill="#222">33.95</text>
<text x="836.8" y="531.3" font-size="11.8" fill="#222">-16.23</text>
<text x="836.8" y="561.3" font-size="11.8" fill="#222">-66.41</text>
<text x="836.8" y="591.3" font-size="11.8" fill="#222">-116.59</text>
<rect x="832" y="108.2" width="68" height="17.6" fill="#ee1f0d"/>
<line x1="831" y1="117.5" x2="835" y2="117.5" stroke="#fff" stroke-width="1" shape-rendering="crispEdges"/>
<text x="837.8" y="121.4" font-size="11.8" fill="#fff">3992.41</text>
</svg></body></html>
